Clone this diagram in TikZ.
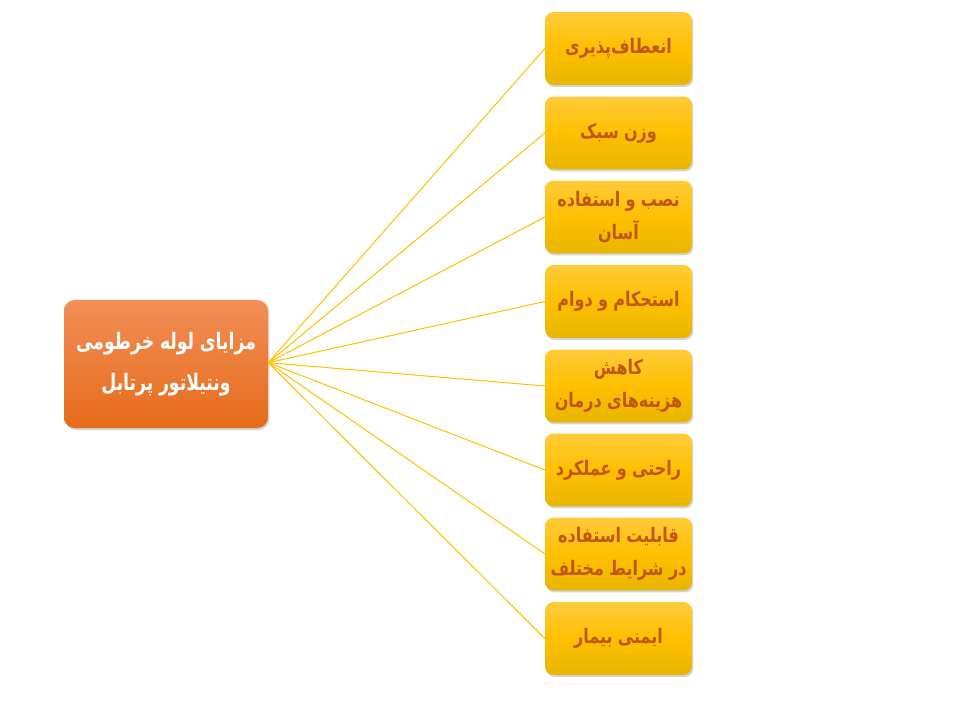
\documentclass[tikz,border=0pt]{standalone}
\usepackage{fontspec}
\usepackage{graphicx}
\usetikzlibrary{shadows}
\newfontfamily\arabicfont[Script=Arabic]{DejaVu Sans}
\TeXXeTstate=1
\newcommand{\arl}[1]{\scalebox{0.8}[1]{\beginR #1\endR}}
\newcommand{\arm}[1]{\scalebox{0.76}[1]{\beginR #1\endR}}
\definecolor{linecol}{HTML}{FFC000}
\definecolor{ytop}{HTML}{FFCB3A}
\definecolor{ybot}{HTML}{E8B500}
\definecolor{otop}{HTML}{F28E57}
\definecolor{obot}{HTML}{E56C1B}
\definecolor{txtcol}{HTML}{C0560F}
\tikzset{
  itembox/.style={draw=none, rounded corners=6pt, top color=ytop, bottom color=ybot,
    middle color=linecol, minimum width=110pt, minimum height=54.5pt, align=center,
    inner sep=1pt, text width=106pt,
    font=\arabicfont\bfseries\fontsize{15}{25}\selectfont, text=txtcol,
    drop shadow={shadow xshift=1pt, shadow yshift=-1.5pt, opacity=0.35}},
  mainbox/.style={draw=none, rounded corners=8pt, top color=otop, bottom color=obot,
    minimum width=153pt, minimum height=96pt, align=center,
    inner sep=1pt, text width=148pt,
    font=\arabicfont\bfseries\fontsize{17}{31}\selectfont, text=white,
    drop shadow={shadow xshift=1pt, shadow yshift=-1.5pt, opacity=0.35}},
  link/.style={draw=linecol, line width=0.75pt}
}
\begin{document}
\begin{tikzpicture}[x=0.75pt,y=-0.75pt]
\useasboundingbox (0,0) rectangle (960,720);
\node[mainbox] (m) at (166,364) {\arm{مزایای لوله خرطومی}\\\arm{ونتیلاتور پرتابل}};
\node[itembox] (a1) at (618.5,48.5) {\arl{انعطاف‌پذیری}};
\node[itembox] (a2) at (618.5,133) {\arl{وزن سبک}};
\node[itembox] (a3) at (618.5,217) {\arl{نصب و استفاده}\\\arl{آسان}};
\node[itembox] (a4) at (618.5,301.5) {\arl{استحکام و دوام}};
\node[itembox] (a5) at (618.5,386) {\arl{کاهش}\\\arl{هزینه‌های درمان}};
\node[itembox] (a6) at (618.5,470) {\arl{راحتی و عملکرد}};
\node[itembox] (a7) at (618.5,554) {\arl{قابلیت استفاده}\\\arl{در شرایط مختلف}};
\node[itembox] (a8) at (618.5,638.5) {\arl{ایمنی بیمار}};
\foreach \i in {1,...,8} {
  \draw[link] ([yshift=1pt]m.east) -- (a\i.west);
}
\end{tikzpicture}
\end{document}
